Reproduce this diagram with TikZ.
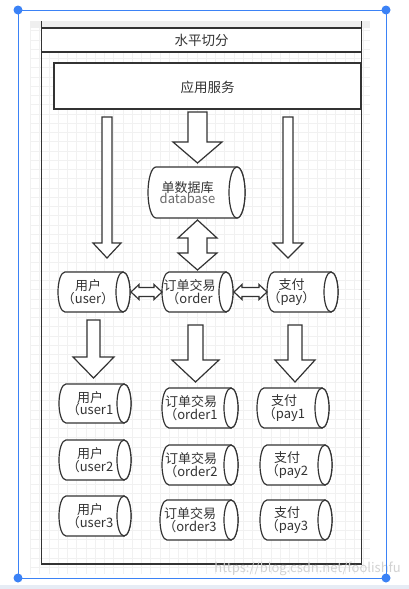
\documentclass[tikz,border=0pt]{standalone}
\usepackage{fontspec}
\setmainfont{Noto Sans CJK SC}
\usetikzlibrary{calc}
\definecolor{ln}{HTML}{333333}
\definecolor{selblue}{HTML}{3B82F6}
\definecolor{wm}{HTML}{D2D2D2}
\definecolor{gridc}{HTML}{F1F1F1}
\definecolor{topband}{HTML}{EFEFEF}
\definecolor{botband}{HTML}{E6ECF5}
\definecolor{dbgray}{HTML}{6A6A6A}
\tikzset{
  blk/.style={draw=ln, line width=1.2pt, fill=white, line join=miter},
  cylline/.style={draw=ln, line width=1.2pt, fill=white},
  cylbox/.style={inner sep=0pt, outer sep=0pt},
  cyltext/.style={text=ln, align=center, inner sep=0pt, font=\fontsize{13}{12.5}\selectfont},
  lbl/.style={text=ln, inner sep=0pt, font=\fontsize{13.5}{14}\selectfont},
  lane/.style={draw=ln, line width=1.2pt},
  sel/.style={draw=selblue, line width=1pt},
  handle/.style={fill=selblue, draw=none}
}
% down block arrow: cx, top, tip, half shaft, half head, head start
\newcommand\downblk[6]{%
  \draw[blk] ({#1-#4},#2) -- ({#1+#4},#2) -- ({#1+#4},#6) -- ({#1+#5},#6) -- (#1,#3)
    -- ({#1-#5},#6) -- ({#1-#4},#6) -- cycle;}
% cylinder: name, cx, cy, w, h, rx, dx, text
\newcommand\cylnode[8]{%
  \node[cylbox, minimum width=#4pt, minimum height=#5pt] (#1) at (#2,#3) {};
  \draw[cylline] ([xshift=-#6pt]#1.north east) -- ([xshift=#6pt]#1.north west)
     arc[start angle=90, end angle=270, x radius=#6pt, y radius={#5*0.5pt}]
     -- ([xshift=-#6pt]#1.south east)
     arc[start angle=-90, end angle=90, x radius=#6pt, y radius={#5*0.5pt}] -- cycle;
  \draw[cylline] ([xshift=-#6pt]#1.east) ellipse[x radius=#6pt, y radius={#5*0.5pt}];
  \node[cyltext] (#1-t) at ([xshift=#7pt]#1.center) {#8};}
\begin{document}
\begin{tikzpicture}[x=1pt,y=-1pt]
\useasboundingbox (0,0) rectangle (409,589);
\fill[white] (0,0) rectangle (409,589);
% canvas
\fill[topband] (30,21) rectangle (370,28);
\foreach \gx in {30.25,39.5,...,370}
  \draw[gridc, line width=0.5pt] (\gx,28) -- (\gx,574);
\foreach \gy in {30.5,39.75,...,574}
  \draw[gridc, line width=0.5pt] (30,\gy) -- (370,\gy);
\fill[botband] (0,585) rectangle (409,589);
% swimlane container
\fill[white] (41.5,28) rectangle (361.5,52);
\draw[lane] (41.5,21) -- (41.5,564) -- (361.5,564) -- (361.5,21);
\draw[lane] (41.5,28) -- (361.5,28);
\draw[lane] (41.5,52) -- (361.5,52);
\node[lbl] (title) at (201.5,40) {水平切分};
\node[lane, fill=white, minimum width=307pt, minimum height=46pt, inner sep=0pt] (app) at (207.5,86) {};
\node[lbl] (appt) at (207.5,87) {应用服务};
% top arrows
\downblk{107}{117}{258}{5}{14}{243}
\downblk{197.5}{112}{163}{9.5}{24.5}{142}
\downblk{288}{117}{258}{5}{15}{243}
% database
\cylnode{db}{196.5}{192.5}{97}{51}{8}{-9}{单数据库\\[-1pt]{\color{dbgray}database}}
% vertical double arrow
\draw[blk] (197.5,220) -- (217,238) -- (207,238) -- (207,253) -- (217,253) -- (197.5,270)
  -- (178,253) -- (188,253) -- (188,238) -- (178,238) -- cycle;
% first row
\cylnode{user}{94}{292}{72}{40}{7}{-6}{用户\\（user）}
\cylnode{order}{197.5}{292}{71}{40}{7}{-8}{订单交易\\（order}
\cylnode{pay}{302.5}{292}{71}{40}{7}{-11}{支付\\（pay）}
% horizontal double arrows
\draw[blk] let \p1=(user.east), \p2=(order.west) in
  (\x1+1pt,\y1) -- ++(8pt,7.5pt) -- ++(0,-3pt) -- (\x2-8pt,\y1+4.5pt) -- ++(0,3pt)
  -- (\x2,\y1) -- ++(-8pt,-7.5pt) -- ++(0,3pt) -- (\x1+9pt,\y1-4.5pt) -- ++(0,-3pt) -- cycle;
\draw[blk] let \p1=(order.east), \p2=(pay.west) in
  (\x1+1pt,\y1) -- ++(8pt,7.5pt) -- ++(0,-3pt) -- (\x2-8pt,\y1+4.5pt) -- ++(0,3pt)
  -- (\x2,\y1) -- ++(-8pt,-7.5pt) -- ++(0,3pt) -- (\x1+9pt,\y1-4.5pt) -- ++(0,-3pt) -- cycle;
% second arrows
\downblk{93.5}{320}{378}{6.5}{20.5}{357}
\downblk{195.5}{325}{382}{7.5}{23.5}{360}
\downblk{295}{325}{382}{7}{20}{360}
% shards
\cylnode{user1}{95}{403.5}{72}{39}{7}{-5}{用户\\（user1}
\cylnode{order1}{200}{408}{76}{40}{7}{-9}{订单交易\\（order1}
\cylnode{pay1}{293}{408}{72}{40}{7}{-9}{支付\\（pay1}
\cylnode{user2}{95}{460}{72}{40}{7}{-5}{用户\\（user2}
\cylnode{order2}{200}{465}{76}{40}{7}{-9}{订单交易\\（order2}
\cylnode{pay2}{296}{465}{72}{40}{7}{-9}{支付\\（pay2}
\cylnode{user3}{95}{516}{72}{40}{7}{-5}{用户\\（user3}
\cylnode{order3}{199}{520}{78}{40}{7}{-9}{订单交易\\（order3}
\cylnode{pay3}{296}{520}{72}{40}{7}{-9}{支付\\（pay3}
% watermark
\node[anchor=east, text=wm, inner sep=0pt, font=\fontsize{13}{13}\selectfont] (wmk) at (401,569) {https://blog.csdn.net/foolishfu};
% selection frame
\draw[sel] (18,10) rectangle (386,578);
\fill[handle] (18,10) circle[radius=4.5pt];
\fill[handle] (386,10) circle[radius=4.5pt];
\fill[handle] (18,578) circle[radius=4.5pt];
\fill[handle] (386,578) circle[radius=4.5pt];
\end{tikzpicture}
\end{document}
